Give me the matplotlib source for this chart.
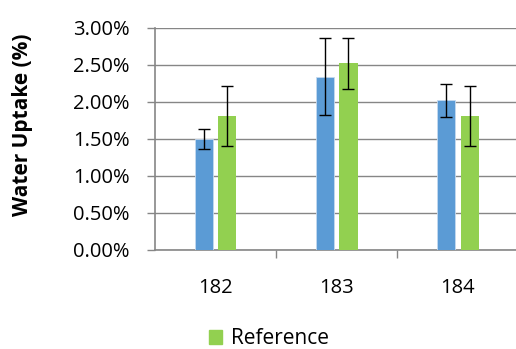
import numpy as np
import matplotlib.pyplot as plt
from matplotlib.patches import Patch

plt.rcParams['font.family'] = ['Open Sans', 'DejaVu Sans']

categories = ['182', '183', '184']
sample_vals = [1.50, 2.34, 2.02]
sample_err = [0.13, 0.52, 0.22]
ref_vals = [1.81, 2.52, 1.81]
ref_err = [0.40, 0.35, 0.40]
yticks = [0, 0.5, 1.0, 1.5, 2.0, 2.5, 3.0]

blue = '#5B9BD5'
green = '#92D050'
grey = '#868686'

fig = plt.figure(figsize=(5.16, 3.49), dpi=100)
ax = fig.add_axes([0.300, 0.284, 0.705, 0.636])

x = np.arange(len(categories))
w = 0.15
off = 0.097
ax.bar(x - off, sample_vals, w, color=blue, edgecolor='#c5daf0', linewidth=0.6, zorder=3)
ax.bar(x + off, ref_vals, w, color=green, zorder=3)
ax.errorbar(x - off, sample_vals, yerr=sample_err, fmt='none', ecolor='black',
            elinewidth=1, capsize=4.3, capthick=1, zorder=4)
ax.errorbar(x + off, ref_vals, yerr=ref_err, fmt='none', ecolor='black',
            elinewidth=1, capsize=4.3, capthick=1, zorder=4)

ax.set_xlim(-0.5, 2.5)
ax.set_ylim(0, 3.0)
ax.set_yticks(yticks)
ax.set_yticklabels(['%.2f%%' % v for v in yticks])
ax.set_xticks(x)
ax.set_xticklabels(categories)
ax.set_xticks([0.5, 1.5], minor=True)
ax.tick_params(axis='x', which='major', length=0, pad=20, labelsize=14.5)
ax.tick_params(axis='x', which='minor', length=6, width=1, color=grey, direction='out')
ax.tick_params(axis='y', length=6, width=1, color=grey, pad=12, labelsize=14.5)

ax.yaxis.grid(True, color=grey, linewidth=1, zorder=0)
for s in ['top', 'right']:
    ax.spines[s].set_visible(False)
for s in ['left', 'bottom']:
    ax.spines[s].set_color(grey)
    ax.spines[s].set_linewidth(1.2)

ax.set_ylabel('Water Uptake (%)', fontsize=15, fontweight='bold', va='center')
ax.yaxis.set_label_coords(-0.365, 0.563)

fig.legend(handles=[Patch(color=green, label='Reference')], loc='lower left',
           bbox_to_anchor=(0.368, -0.055), frameon=False, fontsize=15,
           handlelength=0.65, handleheight=0.65, handletextpad=0.4)

fig.savefig('out.png', dpi=100)
